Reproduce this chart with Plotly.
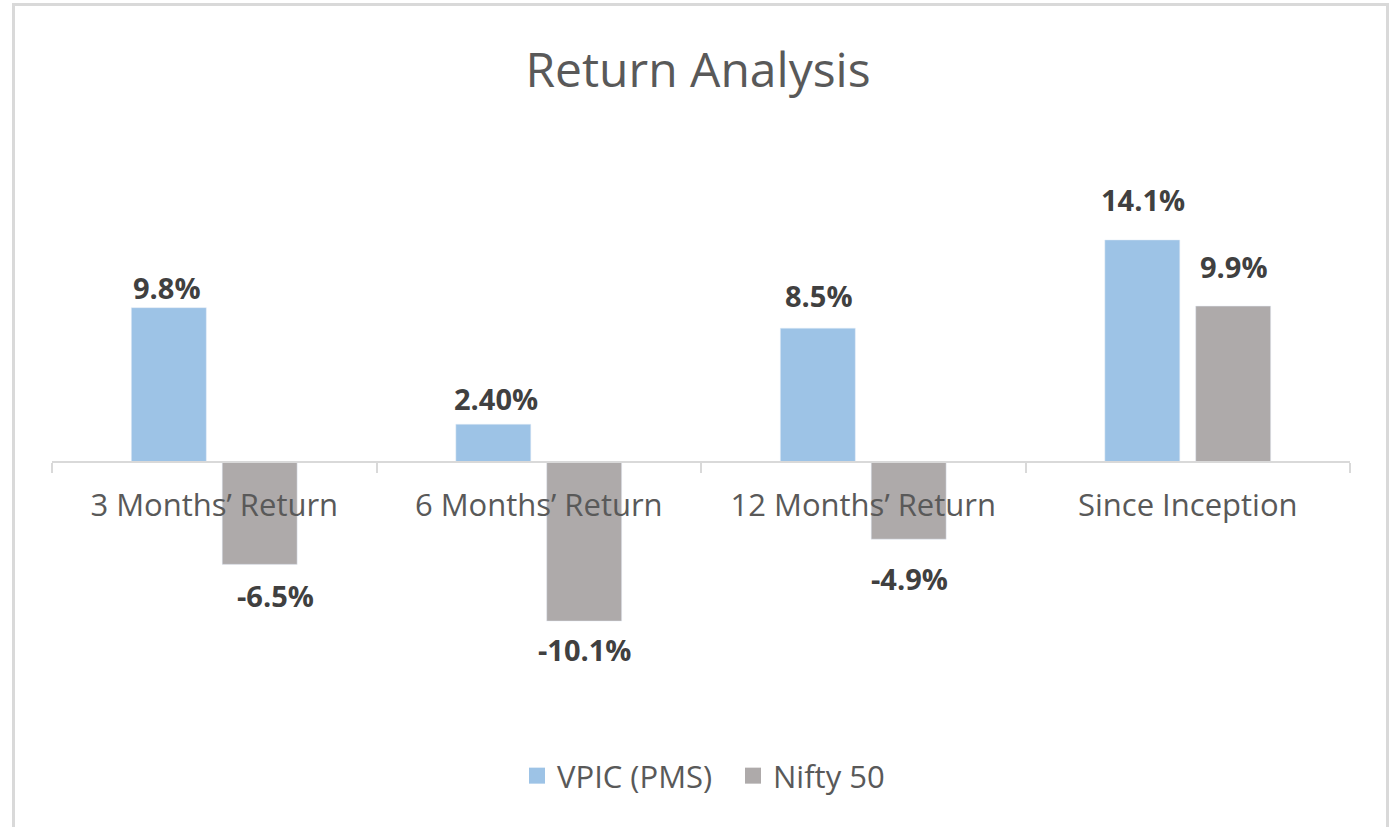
import plotly.graph_objects as go

categories = ["3 Months\u2019 Return", "6 Months\u2019 Return", "12 Months\u2019 Return", "Since Inception"]
vpic = [9.8, 2.4, 8.5, 14.1]
nifty = [-6.5, -10.1, -4.9, 9.9]
vpic_labels = ["9.8%", "2.40%", "8.5%", "14.1%"]
nifty_labels = ["-6.5%", "-10.1%", "-4.9%", "9.9%"]
series_names = ["VPIC (PMS)", "Nifty 50"]
colors = ["#9DC3E6", "#AEAAAA"]

# label placement (pixels away from bar end, and horizontal nudge)
vpic_label_dy = [20, 26, 33, 40]
vpic_label_dx = [-47, -43, -44, -45]
nifty_label_dy = [31, 28, 39, 40]
nifty_label_dx = [61, 46, 46, 46]

W, H = 1389, 827
ML, MR, MT, MB = 52, 39, 150, 127
YMIN, YMAX = -15.11, 19.81
FONT = "Open Sans"

fig = go.Figure()
fig.add_trace(go.Bar(x=categories, y=vpic, name=series_names[0], marker_color=colors[0], showlegend=False))
fig.add_trace(go.Bar(x=categories, y=nifty, name=series_names[1], marker_color=colors[1], showlegend=False))
for n, c in zip(series_names, colors):
    fig.add_trace(go.Scatter(x=[None], y=[None], mode="markers", name=n,
                             marker=dict(symbol="square", size=16, color=c)))

annotations = []
for vals, labels, dys, dxs in ((vpic, vpic_labels, vpic_label_dy, vpic_label_dx),
                               (nifty, nifty_labels, nifty_label_dy, nifty_label_dx)):
    for cat, v, t, dy, dx in zip(categories, vals, labels, dys, dxs):
        annotations.append(dict(x=cat, y=v, text=t, xref="x", yref="y", showarrow=False,
                                xshift=dx, yanchor="middle",
                                yshift=dy if v >= 0 else -dy,
                                font=dict(family=FONT, size=29, color="#404040", weight="bold")))

plot_w = W - ML - MR
plot_h = H - MT - MB
def px_x(px):
    return (px - ML) / plot_w
def px_y(py):
    return (H - MB - py) / plot_h

zero_pos = (0 - YMIN) / (YMAX - YMIN)

fig.update_layout(
    width=W, height=H,
    margin=dict(l=ML, r=MR, t=MT, b=MB),
    paper_bgcolor="white", plot_bgcolor="white",
    barmode="group", bargap=0.44, bargroupgap=0.175,
    title=dict(text="Return Analysis", x=698 / W, xref="container",
               xanchor="center", y=1 - 70 / H, yanchor="middle",
               font=dict(family=FONT, size=48, color="#595959")),
    font=dict(family=FONT, color="#595959"),
    showlegend=True,
    legend=dict(orientation="h", x=px_x(517), xanchor="left", y=px_y(776), yanchor="middle",
                font=dict(family=FONT, size=31, color="#595959"), itemwidth=30, entrywidth=171),
    annotations=annotations,
    xaxis=dict(anchor="free", position=zero_pos, showline=True, linecolor="#D9D9D9", linewidth=2,
               ticks="outside", ticklen=10, tickwidth=2, tickcolor="#D9D9D9", tickson="boundaries",
               ticklabelstandoff=16,
               tickfont=dict(family=FONT, size=31, color="#595959"), showgrid=False, zeroline=False),
    yaxis=dict(range=[YMIN, YMAX], visible=False, showgrid=False, zeroline=False),
    shapes=[dict(type="rect", xref="paper", yref="paper",
                 x0=px_x(13.5), x1=px_x(1387.5), y0=px_y(H + 20), y1=px_y(4.5),
                 line=dict(color="#D9D9D9", width=3), fillcolor="rgba(0,0,0,0)", layer="below")],
)

fig.write_html("out.html", config={"displayModeBar": False},
               post_script="document.body.style.margin='0';document.body.style.overflow='hidden';")
